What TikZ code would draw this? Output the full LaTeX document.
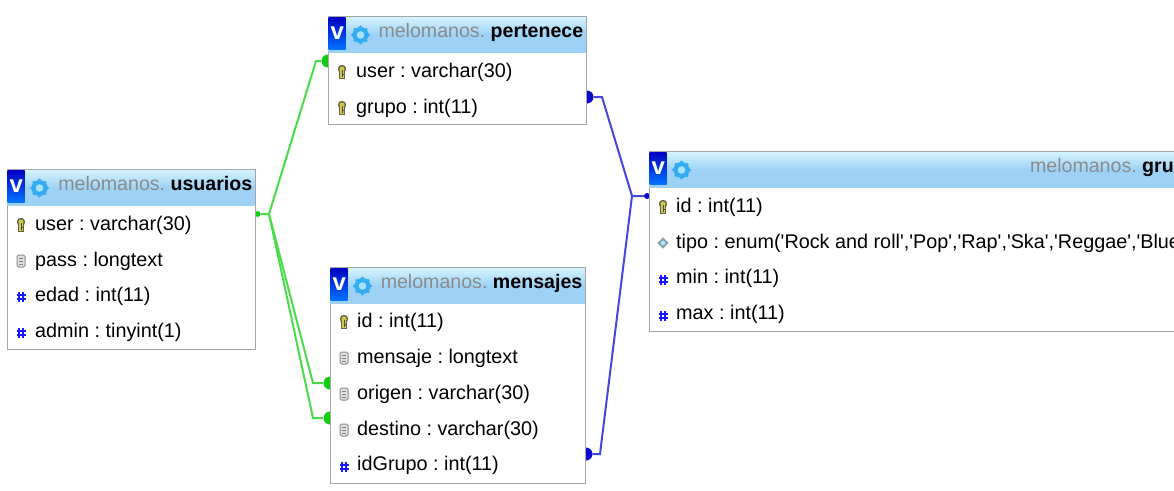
\documentclass[tikz,border=0pt]{standalone}
\usepackage{fontspec}
\setmainfont{Liberation Sans}
\usetikzlibrary{shapes.geometric}
\definecolor{HeadBlue}{HTML}{9DD2F6}
\definecolor{HeadPale}{HTML}{D4F3FD}
\definecolor{LinkGreen}{HTML}{48DC48}
\definecolor{BulbGreen}{HTML}{12CC12}
\definecolor{LinkBlue}{HTML}{4646DC}
\definecolor{BulbBlue}{HTML}{0A0ACC}
\definecolor{GearBlue}{HTML}{35ACF0}
\tikzstyle{Table}=[rectangle, draw=black!35, line width=1.2pt, fill=white, inner sep=0, anchor=north west]
\tikzstyle{Head}=[rectangle, top color=HeadPale, bottom color=HeadBlue, middle color=HeadBlue, inner sep=0, anchor=north west]
\tikzstyle{Badge}=[rectangle, top color=blue!75!black, bottom color=blue!55!cyan, text=white, inner sep=0, minimum width=17, minimum height=32, anchor=north west, font=\fontsize{24}{24}\bfseries\selectfont]
\tikzstyle{Title}=[anchor=base east, inner sep=0, text=black!45, font=\frenchspacing\fontsize{19.6}{20}\selectfont]
\tikzstyle{Field}=[anchor=base west, inner sep=0, text=black, font=\frenchspacing\fontsize{19.8}{20}\selectfont]
\tikzstyle{GreenLink}=[draw=LinkGreen, line width=2pt]
\tikzstyle{BlueLink}=[draw=LinkBlue, line width=2pt]
\tikzstyle{GreenBulb}=[circle, fill=BulbGreen, inner sep=0, minimum size=13]
\tikzstyle{BlueBulb}=[circle, fill=BulbBlue, inner sep=0, minimum size=13]
\tikzset{
  keyicon/.pic={
    \fill[black!55!yellow!70!black] (0,-3) circle (4.2);
    \fill[black!55!yellow!70!black] (-3,-2) rectangle (3,6.5);
    \fill[yellow!75!black!85] (0,-3) circle (2.6);
    \fill[yellow!75!black!85] (-1.8,-2) rectangle (1.8,5.5);
    \draw[black!70, line width=1pt] (0,-2) -- (0,5) (0,2) -- (2,2);
  },
  docicon/.pic={
    \draw[black!45, fill=black!12, rounded corners=1.5, line width=1pt] (-4,-6) rectangle (4,6);
    \foreach \y in {-3,0,3} \draw[black!50, line width=.8pt] (-2,\y) -- (2,\y);
  },
  hashicon/.pic={
    \draw[blue!90, line width=1.3pt] (-2,-5) -- (-2,5) (2,-5) -- (2,5) (-4.5,-2) -- (4.5,-2) (-4.5,2) -- (4.5,2);
  },
  enumicon/.pic={
    \draw[black!40, fill=cyan!60!black!60, line width=.8pt] (-5,0) -- (0,-5) -- (5,0) -- (0,5) -- cycle;
    \fill[cyan!30] (0,0) circle (2);
  },
  gearicon/.pic={
    \foreach \a in {0,45,...,315} \fill[GearBlue] (\a:8) circle (1.6);
    \fill[GearBlue] (0,0) circle (8);
    \fill[cyan!35] (0,0) circle (3.8);
  }
}
% one table head: left, top, width, name
\newcommand{\tablehead}[4]{
    \path (#1,#2) node[Head, minimum width=#3, minimum height=35] (#4head) {};
    \path (#1,#2) node[Badge] (#4badge) {\raisebox{-4pt}{v}};
    \path (#1+32,#2+18) pic {gearicon};
}
\newcommand{\qs}{\textquotesingle}
\begin{document}
\begin{tikzpicture}[x=1pt,y=-1pt]
    \useasboundingbox (0,0) rectangle (1174,490);
    \clip (0,0) rectangle (1174,490);

    % connectors first, the tables cover half of each bulb
    \path
    (257.5,214) node[GreenBulb, minimum size=6] (fromUsuarios) {}
    (328,61) node[GreenBulb] (toPertenece) {}
    (330,383) node[GreenBulb] (toOrigen) {}
    (330,418) node[GreenBulb] (toDestino) {}
    (587,97) node[BlueBulb] (fromGrupo) {}
    (586,454) node[BlueBulb] (fromIdGrupo) {}
    (647,196) node[BlueBulb, minimum size=6] (toGrupos) {};
    \coordinate (hubGreen) at (269,214);
    \coordinate (kneePertenece) at (316,61);
    \coordinate (kneeOrigen) at (313,383);
    \coordinate (kneeDestino) at (313,418);
    \coordinate (hubBlue) at (632,196);
    \coordinate (kneeGrupo) at (602,97);
    \coordinate (kneeIdGrupo) at (600,454);

    \draw[GreenLink] (fromUsuarios) -- (hubGreen) -- (kneePertenece) -- (toPertenece);
    \draw[GreenLink] (hubGreen) -- (kneeOrigen) -- (toOrigen);
    \draw[GreenLink] (hubGreen) -- (kneeDestino) -- (toDestino);
    \draw[BlueLink] (fromGrupo) -- (kneeGrupo) -- (hubBlue) -- (toGrupos);
    \draw[BlueLink] (fromIdGrupo) -- (kneeIdGrupo) -- (hubBlue);

    % usuarios
    \path (7,168.5) node[Table, minimum width=248, minimum height=180.5] (usuarios) {};
    \tablehead{7.5}{170}{247}{usuarios}
    \path (252.5,190.5) node[Title] (usuariosTitle) {melomanos. \textcolor{black}{\textbf{usuarios}}};
    \path
    (35,230) node[Field] (usuariosUser) {user : varchar(30)}
    (35,266) node[Field] (usuariosPass) {pass : longtext}
    (35,301) node[Field] (usuariosEdad) {edad : int(11)}
    (35,337) node[Field] (usuariosAdmin) {admin : tinyint(1)};
    \path (21,225) pic {keyicon} (21,261) pic {docicon} (21,297) pic {hashicon} (21,333) pic {hashicon};

    % pertenece
    \path (328,15.5) node[Table, minimum width=258, minimum height=108.5] (pertenece) {};
    \tablehead{328.5}{17}{257}{pertenece}
    \path (583.5,37.5) node[Title] (perteneceTitle) {melomanos. \textcolor{black}{\textbf{pertenece}}};
    \path
    (356,77) node[Field] (perteneceUser) {user : varchar(30)}
    (356,113) node[Field] (perteneceGrupo) {grupo : int(11)};
    \path (342,72) pic {keyicon} (342,108) pic {keyicon};

    % mensajes
    \path (330,266.5) node[Table, minimum width=255, minimum height=216.5] (mensajes) {};
    \tablehead{330.5}{268}{254}{mensajes}
    \path (582.5,288.5) node[Title] (mensajesTitle) {melomanos. \textcolor{black}{\textbf{mensajes}}};
    \path
    (357,327) node[Field] (mensajesId) {id : int(11)}
    (357,363) node[Field] (mensajesMensaje) {mensaje : longtext}
    (357,399) node[Field] (mensajesOrigen) {origen : varchar(30)}
    (357,435) node[Field] (mensajesDestino) {destino : varchar(30)}
    (357,470) node[Field] (mensajesIdGrupo) {idGrupo : int(11)};
    \path (344,322) pic {keyicon} (344,358) pic {docicon} (344,394) pic {docicon} (344,430) pic {docicon} (344,467) pic {hashicon};

    % grupos runs past the right edge
    \path (649,150.5) node[Table, minimum width=540, minimum height=180.5] (grupos) {};
    \tablehead{649.5}{152}{540}{grupos}
    \path (1174,172.5) node[Title] (gruposTitle) {melomanos. \textcolor{black}{\textbf{gru}}};
    \path
    (676,212) node[Field] (gruposId) {id : int(11)}
    (676,248) node[Field] (gruposTipo) {tipo : enum(\qs Rock and roll\qs,\qs Pop\qs,\qs Rap\qs,\qs Ska\qs,\qs Reggae\qs,\qs Blue}
    (676,283) node[Field] (gruposMin) {min : int(11)}
    (676,319) node[Field] (gruposMax) {max : int(11)};
    \path (663,207) pic {keyicon} (663,243) pic {enumicon} (663,280) pic {hashicon} (663,316) pic {hashicon};
\end{tikzpicture}
\end{document}
